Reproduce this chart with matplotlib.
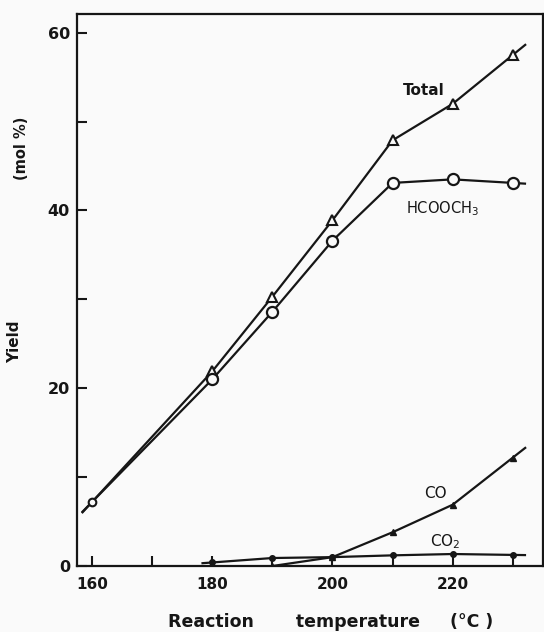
import numpy as np
import matplotlib.pyplot as plt

# yields (mol %) against reaction temperature (deg C)
temps = [160, 180, 190, 200, 210, 220, 230]
total = [7.2, 21.9, 30.3, 38.9, 47.9, 52.0, 57.5]
hcooch3 = [7.2, 21.0, 28.6, 36.6, 43.1, 43.5, 43.1]
co_temps = [190, 200, 210, 220, 230]
co = [0.0, 1.0, 3.8, 6.9, 12.2]
co2_temps = [180, 190, 200, 210, 220, 230]
co2 = [0.4, 0.9, 1.0, 1.2, 1.35, 1.25]

x_major = [160, 180, 200, 220]
x_minor = [170, 190, 210, 230]
y_major = [0, 20, 40, 60]
y_minor = [10, 30, 50]

INK = '#161616'
PAPER = '#fafafa'


def with_tails(x, y, lead=2.0, trail=2.0):
    """Extend a polyline a little past its end points along the end segments."""
    x = np.asarray(x, float)
    y = np.asarray(y, float)
    xs, ys = list(x), list(y)
    if lead:
        s = (y[1] - y[0]) / (x[1] - x[0])
        xs.insert(0, x[0] - lead)
        ys.insert(0, y[0] - s * lead)
    if trail:
        s = (y[-1] - y[-2]) / (x[-1] - x[-2])
        xs.append(x[-1] + trail)
        ys.append(y[-1] + s * trail)
    return xs, ys


fig = plt.figure(figsize=(5.44, 6.32), dpi=100, facecolor=PAPER)
ax = fig.add_axes([0.1415, 0.1044, 0.8565, 0.8734])
ax.set_facecolor(PAPER)

# connecting lines, drawn slightly past the first and last points
for xv, yv, lead in [(temps, total, 1.7), (temps, hcooch3, 1.7),
                     (co_temps, co, 0), (co2_temps, co2, 1.8)]:
    ax.plot(*with_tails(xv, yv, lead=lead, trail=2.2), color=INK, lw=1.6,
            solid_capstyle='butt', zorder=2)

ax.plot(temps[1:], total[1:], ls='none', marker='^', ms=6.5, mew=1.5,
        mec=INK, mfc=PAPER, zorder=3)
ax.plot(temps[1:], hcooch3[1:], ls='none', marker='o', ms=8, mew=1.6,
        mec=INK, mfc=PAPER, zorder=3)
ax.plot(temps[:1], hcooch3[:1], ls='none', marker='o', ms=5.5, mew=1.5,
        mec=INK, mfc=PAPER, zorder=3)
ax.plot(co_temps, co, ls='none', marker='^', ms=4.5, color=INK, zorder=3)
ax.plot(co2_temps, co2, ls='none', marker='o', ms=4, color=INK, zorder=3)

ax.set_xlim(157.5, 235)
ax.set_ylim(0, 62.1)

for side in ['left', 'bottom', 'top', 'right']:
    ax.spines[side].set_linewidth(1.6)
    ax.spines[side].set_color(INK)

ax.set_xticks(x_major)
ax.set_xticks(x_minor, minor=True)
ax.set_yticks(y_major)
ax.set_yticks(y_minor, minor=True)
ax.tick_params(which='both', direction='in', length=7, width=1.5,
               color=INK, top=False, right=False)
ax.tick_params(axis='x', labelsize=11, pad=8, labelcolor=INK)
ax.tick_params(axis='y', labelsize=11.5, pad=5, labelcolor=INK)
for lab in ax.get_xticklabels() + ax.get_yticklabels():
    lab.set_fontweight('bold')

ax.set_xlabel('Reaction       temperature     (°C )', fontsize=12.5,
              fontweight='bold', color=INK, labelpad=15)
ax.xaxis.label.set_x(0.545)
fig.text(0.026, 0.46, 'Yield', rotation=90, fontsize=11,
         fontweight='bold', color=INK, ha='center', va='center')
fig.text(0.039, 0.766, '(mol %)', rotation=90, fontsize=10.5,
         fontweight='bold', color=INK, ha='center', va='center')

# series names next to their curves
ax.text(215.1, 53.5, 'Total', fontsize=11, fontweight='bold',
        color=INK, ha='center', va='center')
ax.text(218.4, 40.2, 'HCOOCH$_3$', fontsize=10.5, color=INK,
        ha='center', va='center')
ax.text(217.2, 8.2, 'CO', fontsize=11, color=INK,
        ha='center', va='center')
ax.text(218.8, 2.7, 'CO$_2$', fontsize=11, color=INK,
        ha='center', va='center')

fig.savefig('out.png', dpi=100, facecolor=fig.get_facecolor())
